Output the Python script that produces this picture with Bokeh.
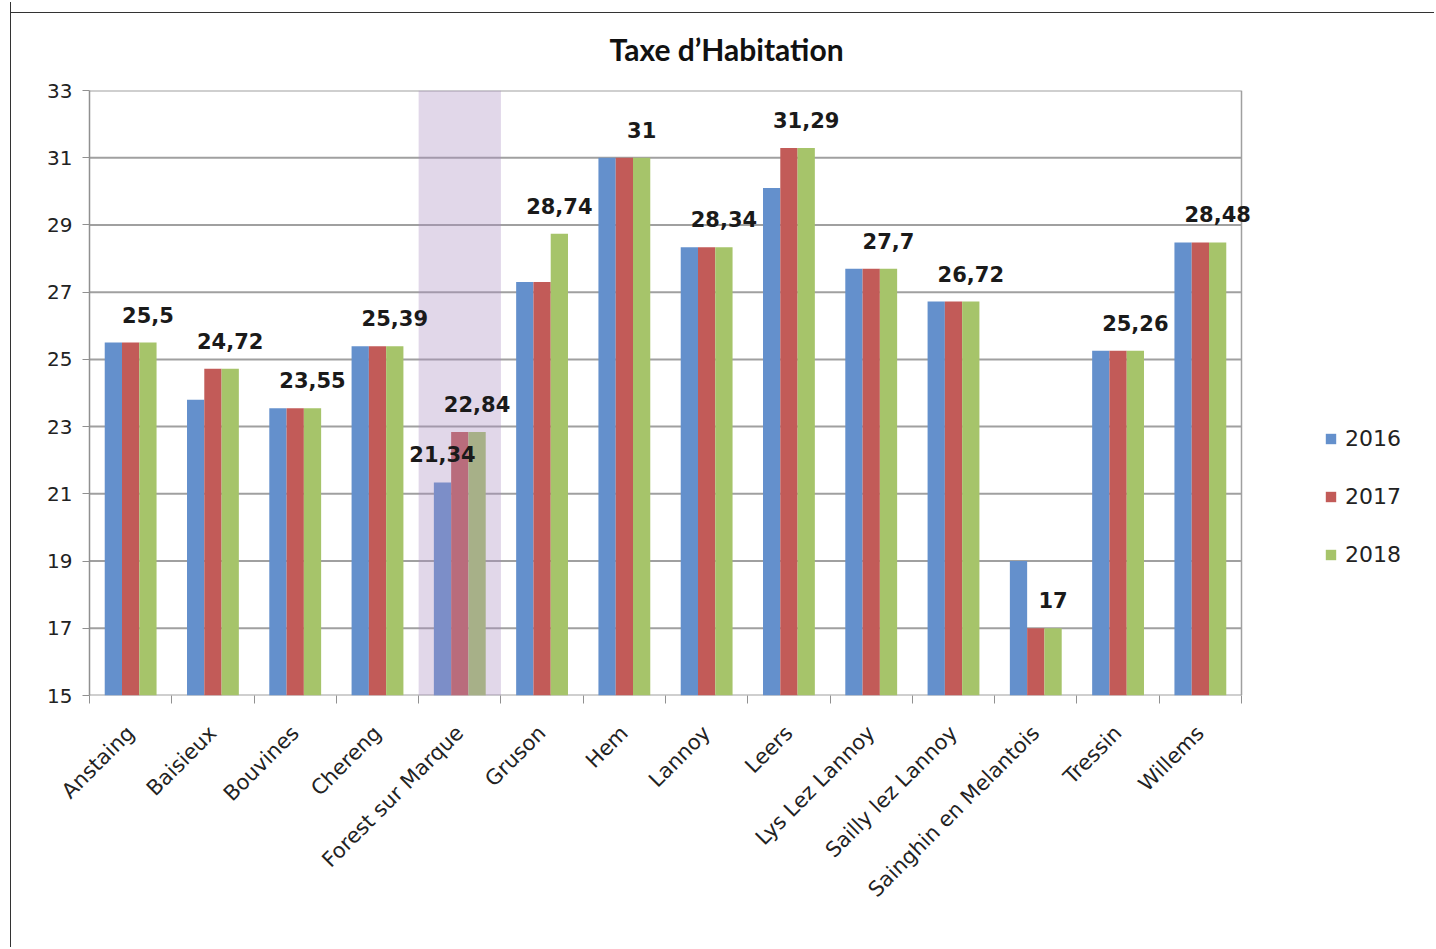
import math
from bokeh.plotting import figure
from bokeh.models import (ColumnDataSource, Range1d, FixedTicker, Legend, LegendItem,
                          BoxAnnotation)
from bokeh.transform import dodge
from bokeh.core.properties import value
from bokeh.embed import file_html
from bokeh.resources import INLINE

# ---------------- data ----------------
title_text = "Taxe d\u2019Habitation"
communes = ["Anstaing", "Baisieux", "Bouvines", "Chereng", "Forest sur Marque", "Gruson",
            "Hem", "Lannoy", "Leers", "Lys Lez Lannoy", "Sailly lez Lannoy",
            "Sainghin en Melantois", "Tressin", "Willems"]
years = ["2016", "2017", "2018"]
v2016 = [25.5, 23.8, 23.55, 25.39, 21.34, 27.3, 31.0, 28.34, 30.1, 27.7, 26.72, 19.0, 25.26, 28.48]
v2017 = [25.5, 24.72, 23.55, 25.39, 22.84, 27.3, 31.0, 28.34, 31.29, 27.7, 26.72, 17.0, 25.26, 28.48]
v2018 = [25.5, 24.72, 23.55, 25.39, 22.84, 28.74, 31.0, 28.34, 31.29, 27.7, 26.72, 17.0, 25.26, 28.48]
highlight = "Forest sur Marque"
extra_label_commune = "Forest sur Marque"   # 2016 value also labelled
y_ticks = [15, 17, 19, 21, 23, 25, 27, 29, 31, 33]
colors = ["#6490cc", "#c25b58", "#a6c46a"]

def fr(v):
    return ("%g" % v).replace(".", ",")

n = len(communes)
y_min, y_max = y_ticks[0], y_ticks[-1]
x_pos = [i + 0.5 for i in range(n)]
src = ColumnDataSource(dict(x=x_pos, v2016=v2016, v2017=v2017, v2018=v2018,
                            lab=[fr(v) for v in v2018]))
ei = communes.index(extra_label_commune)
src_extra = ColumnDataSource(dict(x=[x_pos[ei]], v=[v2016[ei]], lab=[fr(v2016[ei])]))
grid_src = ColumnDataSource(dict(y=y_ticks, x0=[0] * len(y_ticks), x1=[n] * len(y_ticks)))

FONT = "DejaVu Sans"
LEGEND_ROOM = 1341 / 1152   # frame also hosts the legend on the right

p = figure(width=1424, height=945, output_backend="svg", toolbar_location=None,
           x_range=Range1d(0, n * LEGEND_ROOM), y_range=Range1d(y_min, y_max),
           min_border_left=78, min_border_top=88, min_border_right=5, min_border_bottom=252)
p.margin = (2, 0, 0, 10)
p.border_fill_color = None
p.styles = {"border-left": "1px solid #333",
            "background": "linear-gradient(#333, #333) 0 10px / 100% 1px no-repeat"}

p.title.text = title_text
p.title.text_font = "Lato"
p.title.text_font_size = "30px"
p.title.text_font_style = "bold"
p.title.text_color = "#111111"
p.title.align = "left"
p.title.offset = 520
p.title.standoff = 48

p.outline_line_color = None
p.xgrid.grid_line_color = None
p.ygrid.grid_line_color = None

# horizontal gridlines across the category area only
p.segment(x0="x0", x1="x1", y0="y", y1="y", source=grid_src,
          line_color="#a0a0a0", line_width=2, level="underlay")
# right edge of plot area
p.segment(x0=[n], x1=[n], y0=[y_min], y1=[y_max], line_color="#a0a0a0", line_width=1.5,
          level="underlay")

# highlight band
p.add_layout(BoxAnnotation(left=communes.index(highlight), right=communes.index(highlight) + 1,
                           bottom=y_min, top=y_max,
                           fill_color="#a98bc0", fill_alpha=0.35, line_color=None, level="annotation"))

w = 0.21
renderers = []
for k, (yr, col) in enumerate(zip(years, colors)):
    r = p.vbar(x=dodge("x", (k - 1) * w, range=p.x_range), top="v" + yr, bottom=y_min, width=w,
               source=src, fill_color=col, line_color=None)
    renderers.append(r)

p.text(x=dodge("x", w, range=p.x_range), y="v2018", text="lab", source=src,
       text_font=value(FONT), text_font_style="bold", text_font_size="21px",
       text_color="#1a1a1a", text_align="center", text_baseline="bottom", y_offset=-20,
       level="overlay")
p.text(x=dodge("x", -w, range=p.x_range), y="v", text="lab", source=src_extra,
       text_font=value(FONT), text_font_style="bold", text_font_size="21px",
       text_color="#1a1a1a", text_align="center", text_baseline="bottom", y_offset=-20,
       level="overlay")

# y axis
p.yaxis.ticker = FixedTicker(ticks=y_ticks)
p.yaxis.axis_line_color = "#909090"
p.yaxis.axis_line_width = 1.5
p.yaxis.major_tick_line_color = "#909090"
p.yaxis.major_tick_out = 7
p.yaxis.major_tick_in = 0
p.yaxis.minor_tick_line_color = None
p.yaxis.major_label_text_font = FONT
p.yaxis.major_label_text_font_size = "20px"
p.yaxis.major_label_text_color = "#222222"
p.yaxis.major_label_standoff = 10

# x axis (line drawn by the y=15 gridline)
p.xaxis.ticker = FixedTicker(ticks=x_pos, minor_ticks=list(range(n + 1)))
p.xaxis.major_label_overrides = {x: c for x, c in zip(x_pos, communes)}
p.xaxis.major_tick_line_color = None
p.xaxis.minor_tick_line_color = "#909090"
p.xaxis.minor_tick_out = 8
p.xaxis.minor_tick_in = 0
p.xaxis.axis_line_color = None
p.xaxis.major_label_orientation = math.pi / 4
p.xaxis.major_label_text_font = FONT
p.xaxis.major_label_text_font_size = "21px"
p.xaxis.major_label_text_color = "#222222"
p.xaxis.major_label_standoff = 26

legend = Legend(items=[LegendItem(label=yr, renderers=[r]) for yr, r in zip(years, renderers)],
                location=(1235, 128), orientation="vertical",
                glyph_width=13, glyph_height=13, label_height=22, spacing=33,
                padding=0, margin=0, border_line_color=None, background_fill_alpha=0,
                label_text_font=FONT, label_text_font_size="22px", label_text_color="#222222",
                label_standoff=8)
p.add_layout(legend, "center")

open("out.html", "w").write(file_html(p, INLINE))
